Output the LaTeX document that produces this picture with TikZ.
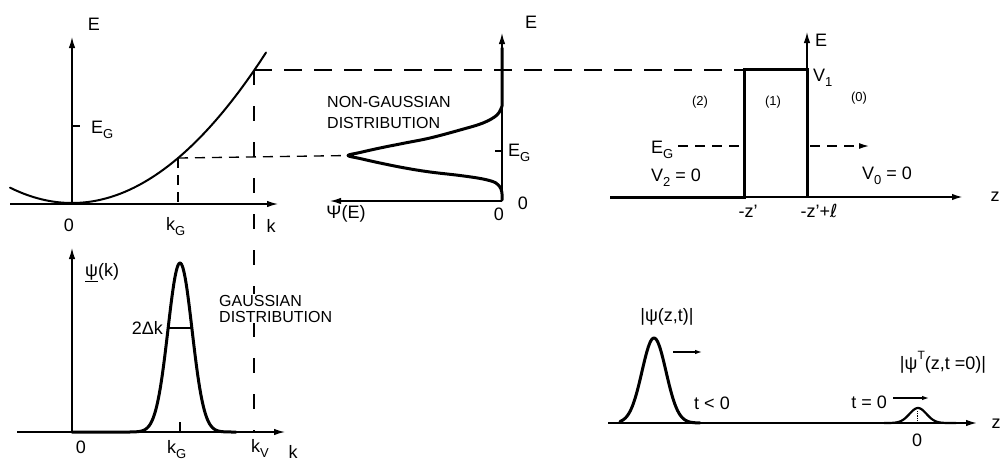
\documentclass[tikz,border=0pt]{standalone}
\usepackage{fontspec}
\setmainfont{Liberation Sans}
\newfontfamily\djv{DejaVu Sans}
\usetikzlibrary{arrows.meta}
\newcommand\lsub[1]{\raisebox{-0.55ex}{\fontsize{13}{13}\selectfont #1}}
\newcommand\lsup[1]{\raisebox{1.0ex}{\fontsize{12}{12}\selectfont #1}}
\begin{document}
\begin{tikzpicture}[x=1pt,y=-1pt,
  >={Latex[length=11pt,width=6.5pt]},
  axline/.style={line width=1.4pt},
  axarrow/.style={line width=1.4pt,->},
  bold/.style={line width=3pt,line join=round,line cap=round},
  curveA/.style={line width=2pt,line cap=round},
  guideL/.style={line width=1.3pt,dash pattern=on 18pt off 12pt},
  guideS/.style={line width=1.3pt,dash pattern=on 10pt off 7pt},
  guideV/.style={line width=1.3pt,dash pattern=on 15pt off 21pt},
  smallarrow/.style={line width=1.2pt,-{Latex[length=7pt,width=4.5pt]}},
  lbl/.style={font=\fontsize{18}{20}\selectfont,inner sep=0pt},
  dist/.style={font=\fontsize{16}{18}\selectfont,inner sep=0pt},
  small/.style={font=\fontsize{13}{15}\selectfont,inner sep=0pt}]
\useasboundingbox (0,0) rectangle (1002,466);

% ---------- panel 1: E(k) ----------
\coordinate (p1o) at (72,204);
\coordinate (p1top) at (72,37);
\coordinate (p1l) at (10,204);
\coordinate (p1r) at (278,204);
\coordinate (p1egA) at (72,126);
\coordinate (p1egB) at (80,126);
\coordinate (kGpt) at (178,158);
\coordinate (kGax) at (178,204);
\coordinate (kVpt) at (254,70);
\coordinate (kVbot) at (254,432);
\draw[axarrow] (p1o) -- (p1top);
\draw[axarrow] (p1l) -- (p1r);
\draw[axline] (p1egA) -- (p1egB);
\draw[curveA] plot[domain=-62:194,samples=90,smooth] ({72+\x},{203-0.004*\x*\x});
\draw[guideS] (kGpt) -- (kGax);
\node[lbl,anchor=base] (E1) at (94,30) {E};
\node[lbl,anchor=base west] (EG1) at (91,133) {E\lsub{G}};
\node[lbl,anchor=base] (zero1) at (69,231) {0};
\node[lbl,anchor=base west] (kG1) at (166,230) {k\lsub{G}};
\node[lbl,anchor=base] (k1) at (271,232) {k};

% ---------- panel 2: non-Gaussian ----------
\coordinate (p2o) at (502,201);
\coordinate (p2top) at (502,33);
\coordinate (p2left) at (330,201);
\coordinate (peakNG) at (348,155.5);
\coordinate (p2egA) at (495,151);
\coordinate (p2egB) at (501,151);
\draw[axarrow] (p2o) -- (p2top);
\draw[axarrow] (p2o) -- (p2left);
\draw[axline] (p2egA) -- (p2egB);
\draw[bold] (502,48) -- plot[smooth,tension=0.6] coordinates {(502,106) (497,115) (483,123) (460,130) (430,138) (405,143) (380,148) (360,152.5) (348,155.5) (360,158.5) (380,163) (405,168) (430,172) (460,175.5) (483,179) (496,183) (501,189) (502,194)} -- (502,200);
\draw[guideS] (kGpt) -- (peakNG);
\node[lbl,anchor=base] (E2) at (531,28) {E};
\node[dist,anchor=base west] (ng1) at (327,107) {NON-GAUSSIAN};
\node[dist,anchor=base west] (ng2) at (327,128) {DISTRIBUTION};
\node[lbl,anchor=base west] (EG2) at (508,156) {E\lsub{G}};
\node[lbl,anchor=base] (zero2r) at (523,209) {0};
\node[lbl,anchor=base] (zero2b) at (499,220) {0};
\node[lbl,anchor=base] (PsiE) at (346,218) {Ψ(E)};

% ---------- panel 3: barrier ----------
\coordinate (zl) at (610,197);
\coordinate (bbl) at (744,197);
\coordinate (btl) at (744,69);
\coordinate (btr) at (807,69);
\coordinate (bbr) at (807,197);
\coordinate (zr) at (963,197);
\coordinate (Etop) at (807,32);
\coordinate (bartl) at (744,70);
\coordinate (egL) at (678,146);
\coordinate (egM) at (744,146);
\coordinate (egR1) at (810,146);
\coordinate (egR2) at (869,146);
\draw[guideL] (kVpt) -- (bartl);
\draw[line width=1.3pt] (bbl) -- (bbr);
\draw[line width=1.9pt,->] (bbr) -- (zr);
\draw[axarrow] (btr) -- (Etop);
\draw[line width=3pt,line join=miter] (zl) -- (bbl) -- (btl) -- (btr) -- (bbr);
\draw[guideS] (egL) -- (egM);
\draw[guideS,-{Latex[length=10pt,width=6pt]}] (egR1) -- (egR2);
\node[lbl,anchor=base west] (E3) at (815,46) {E};
\node[lbl,anchor=base west] (V1) at (813,81) {V\lsub{1}};
\node[small] (r2) at (700,102) {(2)};
\node[small] (r1) at (773,102) {(1)};
\node[small] (r0) at (859,98) {(0)};
\node[lbl,anchor=base west] (EG3) at (651,153) {E\lsub{G}};
\node[lbl,anchor=base west] (V2) at (651,181) {V\lsub{2} = 0};
\node[lbl,anchor=base west] (V0) at (862,179) {V\lsub{0} = 0};
\node[lbl,anchor=base] (mz) at (748,217) {-z'};
\node[lbl,anchor=base] (mzl) at (819,217) {-z'+{\djv ℓ}};
\node[lbl,anchor=base] (z3) at (995,201) {z};

% ---------- panel 4: Gaussian in k ----------
\coordinate (p4o) at (72,432);
\coordinate (p4top) at (72,248);
\coordinate (p4l) at (17,432);
\coordinate (p4r) at (285,432);
\coordinate (dkL) at (168.2,328);
\coordinate (dkR) at (191.8,328);
\coordinate (kGtA) at (180,422);
\coordinate (kGtB) at (180,432);
\draw[guideV] (kVpt) -- (kVbot);
\draw[axarrow] (p4o) -- (p4top);
\draw[axarrow] (p4l) -- (p4r);
\draw[bold] (72,432) -- (130,432) -- plot[domain=130:232,samples=120,smooth] (\x,{432-169*exp(-((\x-180)/17)^2)}) -- (236,432);
\draw[axline] (dkL) -- (dkR);
\draw[axline] (kGtA) -- (kGtB);
\node[lbl,anchor=base west] (psik) at (85,276) {\underline{ψ}(k)};
\node[lbl,anchor=east] (dk) at (163,328) {2Δk};
\node[dist,anchor=base west,fill=white,inner sep=1pt] (g1) at (218,306) {GAUSSIAN};
\node[dist,anchor=base west,fill=white,inner sep=1pt] (g2) at (218,322) {DISTRIBUTION};
\node[lbl,anchor=base] (zero4) at (81,453) {0};
\node[lbl,anchor=base west] (kG4) at (167,453) {k\lsub{G}};
\node[lbl,anchor=base west] (kV4) at (251,452) {k\lsub{V}};
\node[lbl,anchor=base] (k4) at (293,458) {k};

% ---------- panel 5: wave packets ----------
\coordinate (p5l) at (608,423);
\coordinate (p5r) at (977,423);
\coordinate (a1L) at (673,352);
\coordinate (a1R) at (702,352);
\coordinate (a2L) at (893,398);
\coordinate (a2R) at (929,398);
\coordinate (tk0A) at (917,411);
\coordinate (tk0B) at (917,423);
\draw[line width=1.5pt,->] (p5l) -- (p5r);
\draw[bold] plot[domain=620:700,samples=100,smooth] (\x,{423-85*exp(-((\x-654)/17)^2)});
\draw[line width=2.2pt] plot[domain=884:956,samples=80,smooth] (\x,{423-15*exp(-((\x-918)/12)^2)});
\draw[line width=0.8pt,densely dotted] (tk0A) -- (tk0B);
\draw[smallarrow] (a1L) -- (a1R);
\draw[smallarrow] (a2L) -- (a2R);
\node[lbl] (psizt) at (667,317) {|ψ(z,t)|};
\node[lbl,anchor=base] (psiT) at (943,369) {|ψ\lsup{T}(z,t =0)|};
\node[lbl,anchor=base] (tl0) at (712,409) {t < 0};
\node[lbl,anchor=base east] (te0) at (887,408) {t = 0};
\node[lbl,anchor=base] (zero5) at (917,446) {0};
\node[lbl,anchor=base] (z5) at (996,428) {z};
\end{tikzpicture}
\end{document}
